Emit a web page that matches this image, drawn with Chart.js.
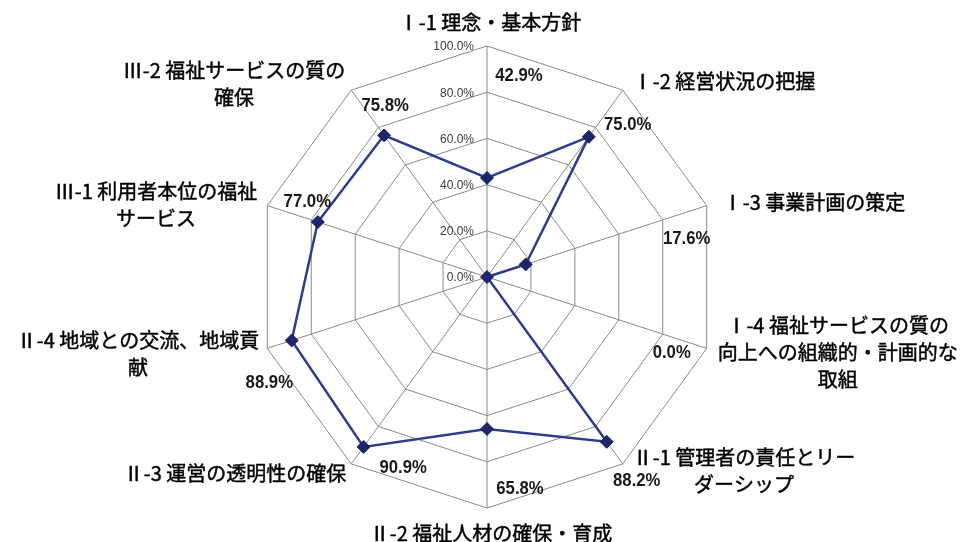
<!DOCTYPE html>
<html lang="ja">
<head>
<meta charset="utf-8">
<title>評価結果レーダーチャート</title>
<script src="https://cdn.jsdelivr.net/npm/chart.js@4.4.1/dist/chart.umd.min.js"></script>
<style>
  html, body { margin: 0; padding: 0; background: #fff; }
  #wrap { width: 961px; height: 542px; }
</style>
</head>
<body>
<div id="wrap"><canvas id="radar" width="961" height="542"></canvas></div>
<script>
'use strict'

  //////////////////////
 // data of the chart //
//////////////////////

const categories = [
  [ 'Ⅰ-1 理念・基本方針' ],
  [ 'Ⅰ-2 経営状況の把握' ],
  [ 'Ⅰ-3 事業計画の策定' ],
  [ 'Ⅰ-4 福祉サービスの質の', '向上への組織的・計画的な', '取組' ],
  [ 'Ⅱ-1 管理者の責任とリー', 'ダーシップ' ],
  [ 'Ⅱ-2 福祉人材の確保・育成' ],
  [ 'Ⅱ-3 運営の透明性の確保' ],
  [ 'Ⅱ-4 地域との交流、地域貢', '献' ],
  [ 'Ⅲ-1 利用者本位の福祉', 'サービス' ],
  [ 'Ⅲ-2 福祉サービスの質の', '確保' ]
];

const rates = [ 42.9, 75.0, 17.6, 0.0, 88.2, 65.8, 90.9, 88.9, 77.0, 75.8 ];

const tickValues = [ 0, 20, 40, 60, 80, 100 ];

  /////////////////////////////////////////////////////////////
 // where the texts sit, offset from the outer ring's corner //
/////////////////////////////////////////////////////////////

// category label block: [dx, dy] (left edge on the right side, right edge on the left side)
const categoryNudge = [
  [ 3, -24 ], [ 10, -9 ], [ 16, -3 ], [ 11, 4 ], [ 10, 7 ],
  [ 4, 25 ], [ -5, 10 ], [ -8, 6 ], [ -10, -1 ], [ -6, -6 ]
];

// value label centre: [dx, dy]
const valueNudge = [
  [ 32, 30 ], [ 5, 35 ], [ -20, 33 ], [ -35, 4 ], [ 14, 17 ],
  [ 33, -19 ], [ 52, 4 ], [ 2, 34 ], [ 40, -4 ], [ 34, 16 ]
];

const JP_FONT = '20px "Noto Sans CJK JP", "Noto Sans", sans-serif';
const VALUE_FONT = 'bold 19px "Liberation Sans", Arial, sans-serif';
const VALUE_SQUEEZE = 0.88;   // the value labels are set narrow in the original
const TICK_FONT = '12px "Liberation Sans", Arial, sans-serif';

/**
 * draws ticks, category names and values with the scale's own geometry
 */
const radarTexts = {
  id: 'radarTexts',
  afterDraw: chart => {
    const ctx = chart.ctx;
    const scale = chart.scales.r;
    const outer = scale.getDistanceFromCenterForValue( 100 );

    ctx.save();

    // tick labels left of the vertical axis
    ctx.font = TICK_FONT;
    ctx.fillStyle = '#3a3a3a';
    ctx.textAlign = 'right';
    ctx.textBaseline = 'middle';
    tickValues.forEach( v => {
      const y = scale.yCenter - scale.getDistanceFromCenterForValue( v );
      ctx.fillText( v.toFixed(1) + '%', scale.xCenter - 13, y + 1 );
    });

    // category labels, a touch heavier than plain regular
    ctx.font = JP_FONT;
    ctx.fillStyle = '#000';
    ctx.strokeStyle = '#000';
    ctx.lineWidth = 0.45;
    ctx.textAlign = 'center';
    const lineH = 27;
    categories.forEach( ( lines, i ) => {
      const p = scale.getPointPosition( i, outer );
      const widths = lines.map( t => ctx.measureText( t ).width );
      const blockW = Math.max( ...widths );
      let cx = p.x + categoryNudge[i][0];
      if( i >= 1 && i <= 4 )       cx += blockW / 2;
      else if( i >= 6 && i <= 9 )  cx -= blockW / 2;
      const cy = p.y + categoryNudge[i][1];
      const top = cy - ( lines.length - 1 ) * lineH / 2;
      lines.forEach( ( t, k ) => {
        ctx.fillText( t, cx, top + k * lineH );
        ctx.strokeText( t, cx, top + k * lineH );
      });
    });

    // value labels
    ctx.font = VALUE_FONT;
    ctx.fillStyle = '#1a1a1a';
    rates.forEach( ( v, i ) => {
      const p = scale.getPointPosition( i, outer );
      ctx.save();
      ctx.translate( p.x + valueNudge[i][0], p.y + valueNudge[i][1] );
      ctx.scale( VALUE_SQUEEZE, 1 );
      ctx.fillText( v.toFixed(1) + '%', 0, 0 );
      ctx.restore();
    });

    ctx.restore();
  }
};

new Chart(
  document.getElementById( 'radar' ),
  {
    type: 'radar',
    data: {
      labels: categories,
      datasets: [{
        label: '評価',
        data: rates,
        fill: false,
        borderColor: '#2f3c8e',
        borderWidth: 2.5,
        pointStyle: 'rectRot',
        pointRadius: 6.5,
        pointBackgroundColor: '#1c2668',
        pointBorderColor: '#1c2668',
        pointBorderWidth: 1
      }]
    },
    options: {
      responsive: false,
      animation: false,
      layout: {
        padding: { left: 187, right: 174, top: 46, bottom: 34 }
      },
      scales: {
        r: {
          min: 0,
          max: 100,
          startAngle: 0,
          ticks: { stepSize: 20, display: false },
          grid: { color: '#8a8a8a', lineWidth: 1 },
          angleLines: { color: '#8a8a8a', lineWidth: 1 },
          pointLabels: { display: false }
        }
      },
      plugins: {
        legend: { display: false },
        tooltip: { enabled: false }
      }
    },
    plugins: [ radarTexts ]
  }
);
</script>
</body>
</html>
